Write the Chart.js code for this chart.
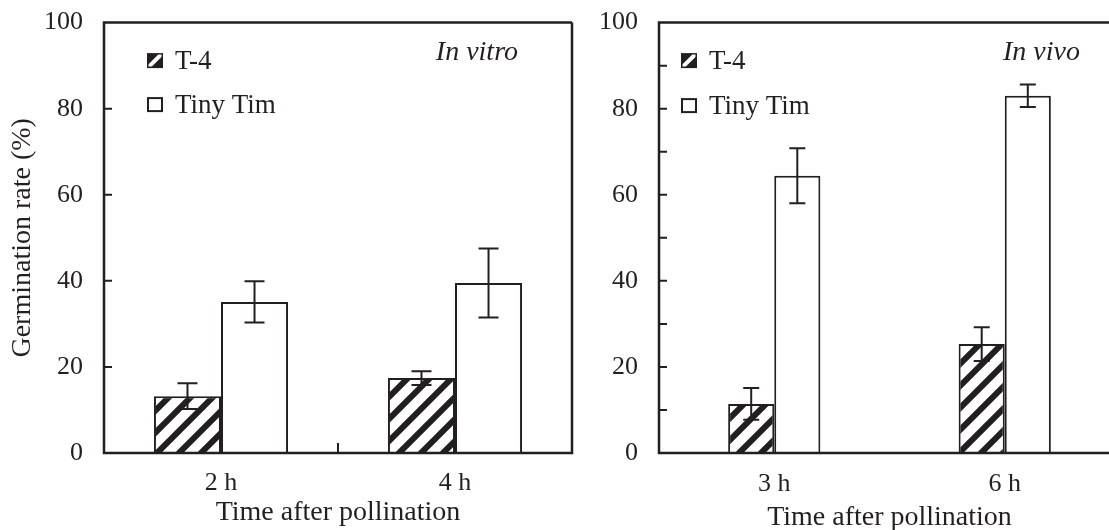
<!DOCTYPE html>
<html>
<head>
<meta charset="utf-8">
<script src="https://cdn.jsdelivr.net/npm/chart.js@4"></script>
<style>
  html, body { margin: 0; padding: 0; background: #fff; overflow: hidden; }
  #wrap { position: relative; width: 1109px; height: 530px; overflow: hidden; }
  #leftBox { position: absolute; left: 0; top: -6px; width: 590px; height: 536px; }
  #rightBox { position: absolute; left: 560px; top: -6px; width: 600px; height: 546px; }
</style>
</head>
<body>
<div id="wrap">
  <div id="leftBox"><canvas id="leftChart"></canvas></div>
  <div id="rightBox"><canvas id="rightChart"></canvas></div>
</div>
<script>
// data
const seriesNames = ['T-4', 'Tiny Tim'];

const vitroCategories = ['2 h', '4 h'];
const vitroT4 = [13.2, 17.4];
const vitroT4Err = [3.0, 1.6];
const vitroTiny = [35.1, 39.5];
const vitroTinyErr = [4.8, 8.0];

const vivoCategories = ['3 h', '6 h'];
const vivoT4 = [11.4, 25.3];
const vivoT4Err = [3.7, 3.9];
const vivoTiny = [64.4, 83.0];
const vivoTinyErr = [6.4, 2.6];

const yMajorTicks = [20, 40, 60, 80];
const yMinorTicks = [10, 30, 50, 70, 90];

const ink = '#231f20';
const serif = "'Liberation Serif', 'Times New Roman', serif";

Chart.defaults.font.family = serif;
Chart.defaults.color = ink;
Chart.defaults.animation = false;

function makeHatch() {
  const size = 22;
  const c = document.createElement('canvas');
  c.width = size; c.height = size;
  const g = c.getContext('2d');
  g.fillStyle = '#fff';
  g.fillRect(0, 0, size, size);
  g.strokeStyle = ink;
  g.lineWidth = 6;
  g.beginPath();
  g.moveTo(-size, size * 2); g.lineTo(size * 2, -size);
  g.moveTo(-size, size); g.lineTo(size, -size);
  g.moveTo(0, size * 2); g.lineTo(size * 2, 0);
  g.stroke();
  return g.createPattern(c, 'repeat');
}

// frame, inward ticks, error bars, legend and panel label
const decorPlugin = {
  id: 'decor',
  afterDatasetsDraw(chart, args, opts) {
    const ctx = chart.ctx;
    const { left, right, top, bottom } = chart.chartArea;
    const y = chart.scales.y;
    const x = chart.scales.x;
    ctx.save();

    // error bars
    ctx.strokeStyle = ink;
    ctx.lineWidth = 2;
    chart.data.datasets.forEach((ds, i) => {
      const meta = chart.getDatasetMeta(i);
      meta.data.forEach((bar, j) => {
        const v = ds.data[j], e = ds.errors[j];
        const y1 = y.getPixelForValue(v + e), y2 = y.getPixelForValue(v - e);
        const cx = bar.x, w = opts.cap;
        ctx.beginPath();
        ctx.moveTo(cx, y1); ctx.lineTo(cx, y2);
        ctx.moveTo(cx - w, y1); ctx.lineTo(cx + w, y1);
        ctx.moveTo(cx - w, y2); ctx.lineTo(cx + w, y2);
        ctx.stroke();
      });
    });

    // frame
    ctx.lineWidth = 2.5;
    ctx.beginPath();
    ctx.moveTo(right, top); ctx.lineTo(left, top); ctx.lineTo(left, bottom); ctx.lineTo(right, bottom);
    if (opts.closeRight) ctx.lineTo(right, top);
    ctx.stroke();

    // inward ticks
    ctx.lineWidth = 2;
    const ticks = opts.minor ? yMajorTicks.concat(yMinorTicks) : yMajorTicks;
    ctx.beginPath();
    ticks.forEach(t => {
      const py = y.getPixelForValue(t);
      ctx.moveTo(left, py); ctx.lineTo(left + 8, py);
    });
    if (opts.midTick) {
      const mx = (x.getPixelForValue(0) + x.getPixelForValue(1)) / 2;
      ctx.moveTo(mx, bottom); ctx.lineTo(mx, bottom - 10);
    }
    ctx.stroke();

    // legend
    ctx.font = '27px ' + serif;
    ctx.textBaseline = 'middle';
    ctx.fillStyle = ink;
    chart.data.datasets.forEach((ds, i) => {
      const bx = left + opts.legendX, by = top + opts.legendY[i];
      if (i === 0) {
        ctx.fillStyle = ink;
        ctx.fillRect(bx, by - 7.5, 16, 15);
        ctx.save();
        ctx.beginPath(); ctx.rect(bx + 1.5, by - 6, 13, 12); ctx.clip();
        ctx.strokeStyle = '#fff'; ctx.lineWidth = 4;
        ctx.beginPath(); ctx.moveTo(bx - 2, by + 10); ctx.lineTo(bx + 18, by - 10); ctx.stroke();
        ctx.restore();
      } else {
        ctx.lineWidth = 2;
        ctx.strokeRect(bx + 1, by - 6.5, 14, 13);
      }
      ctx.fillStyle = ink;
      ctx.fillText(ds.label, bx + opts.textX, by + 1);
    });

    // panel label
    ctx.font = 'italic 28px ' + serif;
    ctx.textAlign = 'right';
    ctx.fillText(opts.tag, opts.tagRight, top + 30);
    ctx.restore();
  }
};

function panel(canvasId, cats, t4, t4e, tiny, tinye, cfg) {
  return new Chart(document.getElementById(canvasId), {
    type: 'bar',
    data: {
      labels: cats,
      datasets: [
        { label: seriesNames[0], data: t4, errors: t4e, backgroundColor: makeHatch(), borderColor: ink, borderWidth: 2 },
        { label: seriesNames[1], data: tiny, errors: tinye, backgroundColor: '#fff', borderColor: ink, borderWidth: 2 }
      ]
    },
    options: {
      responsive: true,
      maintainAspectRatio: false,
      layout: { padding: { top: 1, left: 0, right: cfg.padRight, bottom: 0 } },
      datasets: { bar: { categoryPercentage: cfg.catPct, barPercentage: 1 } },
      plugins: {
        legend: { display: false },
        tooltip: { enabled: false },
        decor: cfg.decor
      },
      scales: {
        x: {
          grid: { display: false },
          border: { display: false },
          ticks: { font: { size: 26 }, padding: cfg.xPad },
          title: { display: true, text: 'Time after pollination', font: { size: 28 }, padding: { top: 0, bottom: cfg.titlePad } },
          afterFit: s => { s.height = cfg.xHeight; }
        },
        y: {
          min: 0, max: 100,
          grid: { display: false },
          border: { display: false },
          ticks: { stepSize: 20, font: { size: 26 }, padding: cfg.yPad },
          title: { display: cfg.yTitle, text: 'Germination rate (%)', font: { size: 28 }, padding: { top: 6, bottom: 0 } },
          afterFit: s => { s.width = cfg.yWidth; }
        }
      }
    },
    plugins: [decorPlugin]
  });
}

panel('leftChart', vitroCategories, vitroT4, vitroT4Err, vitroTiny, vitroTinyErr, {
  padRight: 18, catPct: 0.573, xPad: 7, titlePad: 1, xHeight: 77, yPad: 13, yTitle: true, yWidth: 104,
  decor: { cap: 10, closeRight: true, minor: false, midTick: true, legendX: 43, legendY: [38, 82], textX: 28, tag: 'In vitro', tagRight: 518 }
});

panel('rightChart', vivoCategories, vivoT4, vivoT4Err, vivoTiny, vivoTinyErr, {
  padRight: 40, catPct: 0.40, xPad: 8, titlePad: 6, xHeight: 87, yPad: 13, yTitle: false, yWidth: 99,
  decor: { cap: 8, closeRight: false, minor: true, midTick: false, legendX: 22, legendY: [38, 83], textX: 28, tag: 'In vivo', tagRight: 520 }
});
</script>
</body>
</html>
